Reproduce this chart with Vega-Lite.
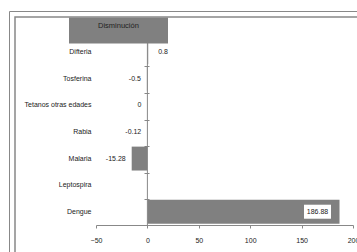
{
  "$schema": "https://vega.github.io/schema/vega-lite/v6.json",
  "width": 257,
  "height": 186,
  "autosize": {"type": "none"},
  "padding": {"left": 96, "top": 39, "right": 4, "bottom": 27},
  "background": "white",
  "config": {
    "view": {"stroke": null},
    "font": "Liberation Sans",
    "text": {"font": "Liberation Sans", "fontSize": 7, "color": "#222"}
  },
  "data": {
    "values": [
      {"enfermedad": "Difteria", "valor": 0.8},
      {"enfermedad": "Tosferina", "valor": -0.5},
      {"enfermedad": "Tetanos otras edades", "valor": 0},
      {"enfermedad": "Rabia", "valor": -0.12},
      {"enfermedad": "Malaria", "valor": -15.28},
      {"enfermedad": "Leptospira", "valor": null},
      {"enfermedad": "Dengue", "valor": 186.88}
    ]
  },
  "layer": [
    {
      "mark": {"type": "bar"},
      "encoding": {
        "y": {
          "field": "enfermedad", "type": "nominal",
          "scale": {"domain": ["Difteria", "Tosferina", "Tetanos otras edades", "Rabia", "Malaria", "Leptospira", "Dengue"], "paddingInner": 0.1, "paddingOuter": 0.05},
          "axis": {"title": null, "domain": false, "ticks": false, "labelPadding": 5, "labelFontSize": 7, "labelColor": "#222", "labelFont": "Liberation Sans"}
        },
        "x": {
          "field": "valor", "type": "quantitative",
          "scale": {"domain": [-50, 200], "nice": false, "zero": false},
          "axis": {"title": null, "values": [-50, 0, 50, 100, 150, 200], "grid": false, "domainColor": "#888", "tickColor": "#888", "tickSize": 3, "labelPadding": 8, "labelFontSize": 7, "labelColor": "#222", "labelFlush": false, "labelFont": "Liberation Sans"}
        },
        "color": {
          "datum": "Disminución",
          "scale": {"range": ["#808080"]},
          "legend": {
            "title": null, "orient": "none", "legendX": -12, "legendY": -18.5, "padding": 0,
            "symbolType": "M-4,-1.6H15.8V3.6H-4Z", "symbolSize": 100, "symbolStrokeWidth": 0,
            "labelFontSize": 7.5, "labelColor": "#222", "labelFont": "Liberation Sans", "labelOffset": 4,
            "encode": {"symbols": {"update": {"fill": {"value": "#BFBFBF"}, "opacity": {"value": 1}}}}
          }
        }
      }
    },
    {
      "data": {"values": [{"k": "marco"}]},
      "mark": {"type": "rule", "color": "#888"},
      "encoding": {
        "x": {"datum": 0},
        "opacity": {
          "datum": "marco",
          "scale": {"range": [1]},
          "legend": {
            "title": null, "orient": "none", "legendX": -87, "legendY": -28, "padding": 0,
            "strokeColor": "#888", "fillColor": null,
            "symbolType": "M0,0H80V60H0Z", "symbolSize": 100, "labelOpacity": 0,
            "encode": {"symbols": {"update": {"fill": {"value": "transparent"}, "stroke": {"value": "transparent"}}}}
          }
        }
      }
    },
    {
      "transform": [{"filter": "isValid(datum.valor) && datum.valor <= 0"}],
      "mark": {"type": "text", "align": "right", "dx": -6, "baseline": "middle"},
      "encoding": {
        "y": {
          "field": "enfermedad", "type": "nominal",
          "axis": {"title": null, "labels": false, "domain": false, "ticks": true, "tickSize": 5, "tickColor": "#888", "bandPosition": 0, "offset": -53, "orient": "left"}
        },
        "x": {"field": "valor", "type": "quantitative"},
        "text": {"field": "valor", "type": "nominal"}
      }
    },
    {
      "transform": [{"filter": "isValid(datum.valor) && datum.valor > 0 && datum.enfermedad != 'Dengue'"}],
      "mark": {"type": "text", "align": "left", "dx": 10, "baseline": "middle"},
      "encoding": {
        "y": {"field": "enfermedad", "type": "nominal", "axis": null},
        "x": {"field": "valor", "type": "quantitative"},
        "text": {"field": "valor", "type": "nominal"}
      }
    },
    {
      "transform": [{"filter": "datum.enfermedad == 'Dengue'"}],
      "mark": {"type": "point", "shape": "M-7.1,-1.4H-1.7V1.4H-7.1Z", "filled": true, "color": "white", "opacity": 1, "size": 100, "strokeWidth": 0},
      "encoding": {
        "y": {"field": "enfermedad", "type": "nominal", "axis": null},
        "x": {"field": "valor", "type": "quantitative"}
      }
    },
    {
      "transform": [{"filter": "datum.enfermedad == 'Dengue'"}],
      "mark": {"type": "text", "align": "center", "dx": -22, "baseline": "middle"},
      "encoding": {
        "y": {"field": "enfermedad", "type": "nominal", "axis": null},
        "x": {"field": "valor", "type": "quantitative"},
        "text": {"field": "valor", "type": "nominal"}
      }
    }
  ],
  "resolve": {"axis": {"y": "independent"}}
}
